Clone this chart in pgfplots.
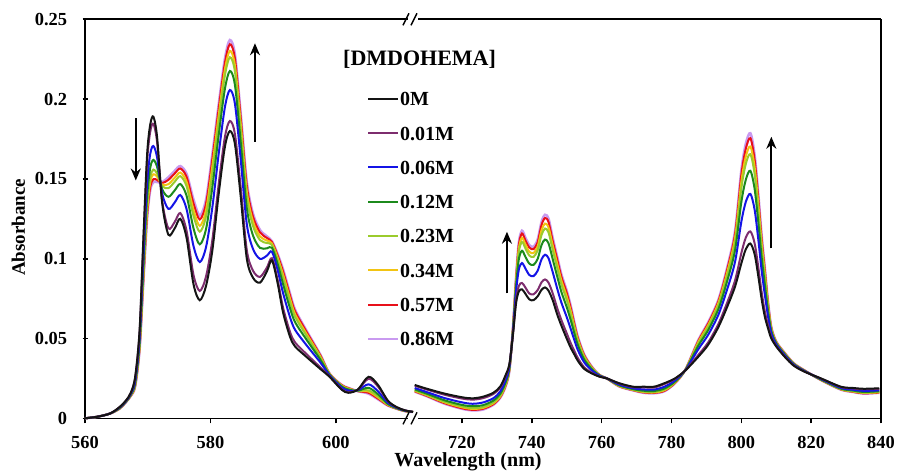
\documentclass[border=0pt]{standalone}
\usepackage{fontspec}
\setmainfont{Liberation Serif}
\usepackage{pgfplots}
\usepackage{pgfplotstable}
\pgfplotsset{compat=1.18}
\usetikzlibrary{arrows.meta}

\definecolor{c0}{HTML}{141414}
\definecolor{c1}{HTML}{7D2D6E}
\definecolor{c2}{HTML}{1414E6}
\definecolor{c3}{HTML}{1C8A1C}
\definecolor{c4}{HTML}{9BCB2C}
\definecolor{c5}{HTML}{F2C413}
\definecolor{c6}{HTML}{E8101A}
\definecolor{c7}{HTML}{C99AF0}

\pgfplotstableread{
x a0 a1 a2 a3 a4 a5 a6 a7
560 0 0 0 0 0 0 0 0
562 0.001 0.001 0.001 0.001 0.001 0.001 0.001 0.001
564 0.003 0.003 0.003 0.003 0.003 0.003 0.003 0.003
565.5 0.007 0.0069 0.0066 0.0063 0.0062 0.0061 0.0060 0.006
566.5 0.011 0.0109 0.0105 0.0103 0.0102 0.0101 0.0100 0.010
567.3 0.016 0.0158 0.0151 0.0147 0.0144 0.0142 0.0141 0.014
568 0.026 0.0253 0.0233 0.0220 0.0211 0.0207 0.0203 0.020
568.7 0.055 0.0537 0.0496 0.0471 0.0453 0.0444 0.0435 0.043
569.3 0.112 0.1090 0.0999 0.0942 0.0901 0.0882 0.0862 0.085
569.9 0.165 0.1606 0.1470 0.1386 0.1326 0.1298 0.1268 0.125
570.4 0.184 0.1795 0.1656 0.1569 0.1508 0.1479 0.1448 0.143
570.9 0.189 0.1845 0.1706 0.1619 0.1558 0.1529 0.1498 0.148
571.5 0.176 0.1729 0.1634 0.1575 0.1533 0.1514 0.1493 0.148
572.3 0.135 0.1364 0.1409 0.1436 0.1455 0.1464 0.1474 0.148
573.3 0.115 0.1190 0.1312 0.1388 0.1442 0.1467 0.1494 0.151
574.3 0.119 0.1230 0.1352 0.1428 0.1482 0.1507 0.1534 0.155
575.2 0.125 0.1286 0.1399 0.1468 0.1517 0.1540 0.1565 0.158
576.2 0.113 0.1174 0.1310 0.1394 0.1454 0.1482 0.1512 0.153
577.3 0.084 0.0898 0.1079 0.1190 0.1269 0.1306 0.1346 0.137
578.3 0.074 0.0798 0.0979 0.1090 0.1169 0.1206 0.1246 0.127
579.3 0.083 0.0889 0.1073 0.1186 0.1267 0.1305 0.1346 0.137
580.3 0.105 0.1116 0.1320 0.1446 0.1536 0.1578 0.1623 0.165
581.3 0.140 0.1462 0.1652 0.1770 0.1854 0.1893 0.1935 0.196
582.3 0.170 0.1761 0.1948 0.2063 0.2146 0.2184 0.2225 0.225
583.1 0.180 0.1863 0.2057 0.2176 0.2262 0.2302 0.2344 0.237
583.9 0.172 0.1782 0.1972 0.2090 0.2174 0.2213 0.2255 0.228
584.8 0.140 0.1457 0.1634 0.1743 0.1821 0.1858 0.1897 0.192
585.8 0.100 0.1053 0.1216 0.1317 0.1389 0.1422 0.1458 0.148
586.8 0.088 0.0924 0.1060 0.1144 0.1204 0.1232 0.1262 0.128
587.9 0.085 0.0886 0.0999 0.1068 0.1117 0.1140 0.1165 0.118
589.0 0.092 0.0944 0.1019 0.1065 0.1098 0.1114 0.1130 0.114
589.8 0.099 0.1003 0.1044 0.1069 0.1087 0.1096 0.1105 0.111
590.7 0.085 0.0870 0.0931 0.0969 0.0996 0.1008 0.1022 0.103
591.6 0.066 0.0690 0.0782 0.0838 0.0879 0.0898 0.0918 0.093
592.7 0.051 0.0540 0.0632 0.0688 0.0729 0.0748 0.0768 0.078
593.5 0.045 0.0475 0.0554 0.0602 0.0636 0.0652 0.0670 0.068
595.3 0.0385 0.0403 0.0459 0.0494 0.0519 0.0530 0.0543 0.055
597.5 0.031 0.0320 0.0351 0.0369 0.0383 0.0389 0.0396 0.040
599.0 0.026 0.0262 0.0269 0.0273 0.0276 0.0278 0.0279 0.028
600.9 0.018 0.0183 0.0194 0.0200 0.0204 0.0206 0.0209 0.021
602.0 0.016 0.0163 0.0174 0.0180 0.0184 0.0186 0.0189 0.019
603.5 0.018 0.0179 0.0176 0.0173 0.0172 0.0171 0.0170 0.017
605.2 0.026 0.0248 0.0213 0.0191 0.0175 0.0168 0.0160 0.0155
606.7 0.021 0.0200 0.0170 0.0151 0.0137 0.0131 0.0124 0.012
608.3 0.011 0.0107 0.0097 0.0090 0.0086 0.0084 0.0081 0.008
609.7 0.007 0.0069 0.0066 0.0063 0.0062 0.0061 0.0060 0.006
611.0 0.005 0.0050 0.0048 0.0047 0.0046 0.0046 0.0045 0.0045
612.3 0.004 0.004 0.004 0.004 0.004 0.004 0.004 0.004
}\lefttab

\pgfplotstableread{
x a0 a1 a2 a3 a4 a5 a6 a7
706.5 0.0209 0.0204 0.0190 0.0181 0.0175 0.0172 0.0169 0.0167
710 0.0185 0.0180 0.0164 0.0154 0.0147 0.0144 0.0140 0.0138
715 0.0155 0.0148 0.0127 0.0113 0.0104 0.0100 0.0095 0.0092
720 0.0132 0.0124 0.0100 0.0084 0.0074 0.0069 0.0063 0.0060
723 0.0125 0.0117 0.0091 0.0076 0.0064 0.0059 0.0053 0.0050
726 0.0135 0.0126 0.0099 0.0082 0.0070 0.0065 0.0059 0.0055
729 0.0160 0.0152 0.0126 0.0111 0.0099 0.0094 0.0088 0.0085
731 0.0200 0.0192 0.0169 0.0154 0.0143 0.0138 0.0133 0.0130
732.5 0.0270 0.0262 0.0239 0.0224 0.0213 0.0208 0.0203 0.0200
733.6 0.0340 0.0336 0.0322 0.0314 0.0308 0.0305 0.0302 0.0300
734.6 0.0520 0.0524 0.0538 0.0546 0.0552 0.0555 0.0558 0.0560
735.5 0.0720 0.0738 0.0792 0.0826 0.0850 0.0861 0.0873 0.0880
736.3 0.0795 0.0829 0.0932 0.0996 0.1042 0.1063 0.1086 0.1100
737.2 0.0808 0.0848 0.0973 0.1050 0.1105 0.1131 0.1158 0.1175
738.2 0.0780 0.0819 0.0938 0.1011 0.1064 0.1088 0.1114 0.1130
739.3 0.0745 0.0782 0.0898 0.0969 0.1020 0.1044 0.1070 0.1085
740.5 0.0740 0.0777 0.0891 0.0961 0.1011 0.1035 0.1060 0.1075
741.7 0.0765 0.0804 0.0925 0.0999 0.1053 0.1077 0.1104 0.1120
742.8 0.0805 0.0852 0.0996 0.1086 0.1149 0.1179 0.1211 0.1230
743.8 0.0820 0.0870 0.1025 0.1120 0.1189 0.1220 0.1255 0.1275
744.8 0.0800 0.0850 0.1003 0.1097 0.1165 0.1196 0.1230 0.1250
746 0.0740 0.0783 0.0916 0.0997 0.1056 0.1083 0.1112 0.1130
747.3 0.0650 0.0690 0.0812 0.0888 0.0942 0.0967 0.0994 0.1010
748.5 0.0580 0.0615 0.0724 0.0791 0.0839 0.0862 0.0886 0.0900
750 0.0500 0.0533 0.0635 0.0698 0.0743 0.0764 0.0787 0.0800
751.2 0.0440 0.0469 0.0557 0.0612 0.0651 0.0669 0.0688 0.0700
752.2 0.0400 0.0422 0.0490 0.0532 0.0562 0.0576 0.0591 0.0600
753.2 0.0360 0.0377 0.0428 0.0459 0.0482 0.0492 0.0503 0.0510
755 0.0310 0.0320 0.0351 0.0369 0.0383 0.0389 0.0396 0.0400
757.3 0.0280 0.0284 0.0298 0.0306 0.0312 0.0315 0.0318 0.0320
759.5 0.0260 0.0261 0.0265 0.0267 0.0268 0.0269 0.0270 0.0270
761.5 0.0250 0.0250 0.0250 0.0250 0.0250 0.0250 0.0250 0.0250
765 0.0220 0.0218 0.0211 0.0207 0.0204 0.0202 0.0201 0.0200
769 0.0198 0.0195 0.0188 0.0183 0.0179 0.0178 0.0176 0.0175
772 0.0198 0.0194 0.0181 0.0173 0.0167 0.0165 0.0162 0.0160
775 0.0198 0.0193 0.0180 0.0171 0.0165 0.0162 0.0159 0.0157
778 0.0220 0.0215 0.0198 0.0187 0.0180 0.0176 0.0172 0.0170
781 0.0250 0.0247 0.0237 0.0230 0.0226 0.0224 0.0221 0.0220
784 0.0300 0.0301 0.0302 0.0303 0.0304 0.0304 0.0305 0.0305
787.7 0.0386 0.0397 0.0433 0.0455 0.0470 0.0478 0.0485 0.0490
790.5 0.0460 0.0475 0.0523 0.0552 0.0573 0.0583 0.0594 0.0600
793.4 0.0570 0.0589 0.0647 0.0682 0.0708 0.0720 0.0732 0.0740
795.8 0.0690 0.0716 0.0798 0.0848 0.0884 0.0901 0.0919 0.0930
798.2 0.0825 0.0863 0.0980 0.1053 0.1104 0.1129 0.1154 0.1170
800 0.0970 0.1034 0.1231 0.1353 0.1440 0.1480 0.1524 0.1550
801.3 0.1060 0.1133 0.1357 0.1496 0.1595 0.1641 0.1690 0.1720
802.6 0.1095 0.1171 0.1406 0.1551 0.1655 0.1703 0.1755 0.1786
803.8 0.1030 0.1098 0.1309 0.1439 0.1532 0.1576 0.1622 0.1650
804.8 0.0900 0.0957 0.1134 0.1243 0.1321 0.1358 0.1397 0.1420
805.8 0.0750 0.0794 0.0930 0.1014 0.1074 0.1102 0.1132 0.1150
806.7 0.0640 0.0674 0.0780 0.0845 0.0891 0.0913 0.0936 0.0950
807.7 0.0560 0.0578 0.0632 0.0666 0.0690 0.0701 0.0713 0.0720
808.6 0.0500 0.0508 0.0532 0.0546 0.0557 0.0562 0.0567 0.0570
810 0.0450 0.0453 0.0464 0.0470 0.0474 0.0476 0.0479 0.0480
812.4 0.0386 0.0389 0.0397 0.0402 0.0405 0.0407 0.0409 0.0410
815 0.0330 0.0332 0.0337 0.0340 0.0342 0.0343 0.0344 0.0345
818.1 0.0292 0.0293 0.0296 0.0297 0.0298 0.0299 0.0300 0.0300
822.8 0.0250 0.0249 0.0246 0.0243 0.0242 0.0241 0.0240 0.0240
828.5 0.0198 0.0196 0.0190 0.0186 0.0183 0.0182 0.0181 0.0180
832 0.0190 0.0187 0.0179 0.0174 0.0170 0.0168 0.0166 0.0165
835 0.0185 0.0182 0.0172 0.0165 0.0161 0.0159 0.0156 0.0155
839.5 0.0188 0.0185 0.0175 0.0170 0.0165 0.0163 0.0161 0.0160
}\righttab

\pgfplotsset{
  base/.style={
    scale only axis, height=199.5pt, ymin=0, ymax=0.25, clip=false,
    axis x line=box, xtick pos=bottom,
    tick align=outside, major tick length=2.5pt,
    axis line style={-, line width=0.8pt},
    every non boxed y axis/.append style={y axis line style={-}},
    every tick/.style={black, line width=0.8pt},
    /pgf/number format/assume math mode=true,
    /pgf/number format/1000 sep={},
    ticklabel style={font=\bfseries\fontsize{9.2}{10}\selectfont, inner sep=0pt},
    xticklabel style={yshift=-6.2pt},
    yticklabel style={xshift=-7.5pt},
    every axis plot/.append style={line width=1pt, smooth, no markers},
  }
}

\begin{document}
\begin{tikzpicture}
\begin{axis}[base, name=L, at={(0,0)}, anchor=south west, width=164pt,
  xmin=560, xmax=612.3, axis y line=left,
  xtick={560,580,600},
  ytick={0,0.05,0.1,0.15,0.2,0.25},
  yticklabels={0,0.05,0.1,0.15,0.2,0.25},
  reverse legend,
  legend style={draw=none, fill=none, at={(0.859,0.822)}, anchor=north west,
    font=\bfseries\fontsize{10}{12}\selectfont, row sep=9.15pt, inner sep=0pt,
    cells={anchor=west},
    nodes={inner sep=0.5pt, text height=7pt, text depth=0pt}},
  legend image code/.code={\draw[#1, line width=1pt] (0pt,0pt) -- (15pt,0pt);},
]
\addplot[c7, line width=1.3pt] table[x=x, y=a7] {\lefttab}; \addlegendentry{0.86M}
\addplot[c6] table[x=x, y=a6] {\lefttab}; \addlegendentry{0.57M}
\addplot[c5] table[x=x, y=a5] {\lefttab}; \addlegendentry{0.34M}
\addplot[c4] table[x=x, y=a4] {\lefttab}; \addlegendentry{0.23M}
\addplot[c3] table[x=x, y=a3] {\lefttab}; \addlegendentry{0.12M}
\addplot[c2] table[x=x, y=a2] {\lefttab}; \addlegendentry{0.06M}
\addplot[c1] table[x=x, y=a1] {\lefttab}; \addlegendentry{0.01M}
\addplot[c0] table[x=x, y=a0] {\lefttab}; \addlegendentry{0M}
\node[font=\bfseries\fontsize{11}{13}\selectfont] at (rel axis cs:1.020,0.9005) {[DMDOHEMA]};
\node[rotate=90, font=\bfseries\fontsize{9.5}{11}\selectfont] at (rel axis cs:-0.2034,0.479) {Absorbance};
\draw[line width=1pt, -{Stealth[length=6pt,width=5pt]}] (axis cs:568.1,0.188) -- (axis cs:568.1,0.149);
\draw[line width=1pt, -{Stealth[length=6pt,width=5pt]}] (axis cs:587.1,0.1733) -- (axis cs:587.1,0.235);
\end{axis}
\begin{axis}[base, at={(164pt,0)}, anchor=south west, width=234pt,
  xmin=706, xmax=840, axis y line=right, ytick=\empty,
  xtick={720,740,760,780,800,820,840},
]
\addplot[c7, line width=1.3pt] table[x=x, y=a7] {\righttab};
\addplot[c6] table[x=x, y=a6] {\righttab};
\addplot[c5] table[x=x, y=a5] {\righttab};
\addplot[c4] table[x=x, y=a4] {\righttab};
\addplot[c3] table[x=x, y=a3] {\righttab};
\addplot[c2] table[x=x, y=a2] {\righttab};
\addplot[c1] table[x=x, y=a1] {\righttab};
\addplot[c0] table[x=x, y=a0] {\righttab};
\node[font=\bfseries\fontsize{10}{12}\selectfont, inner sep=0pt, anchor=base] at (rel axis cs:0.1175,-0.1200) {Wavelength (nm)};
\draw[line width=1pt, -{Stealth[length=6pt,width=5pt]}] (axis cs:732.9,0.0783) -- (axis cs:732.9,0.1169);
\draw[line width=1pt, -{Stealth[length=6pt,width=5pt]}] (axis cs:808.6,0.1065) -- (axis cs:808.6,0.1764);
\fill[white] (rel axis cs:0,0) ++(-2.5pt,-1.5pt) rectangle ++(5pt,3pt);
\draw[line width=0.7pt] (rel axis cs:0,0) ++(-5pt,-3pt) -- ++(3pt,6pt);
\draw[line width=0.7pt] (rel axis cs:0,0) ++(-1pt,-3pt) -- ++(3pt,6pt);
\fill[white] (rel axis cs:0,1) ++(-2.5pt,-1.5pt) rectangle ++(5pt,3pt);
\draw[line width=0.7pt] (rel axis cs:0,1) ++(-5pt,-3pt) -- ++(3pt,6pt);
\draw[line width=0.7pt] (rel axis cs:0,1) ++(-1pt,-3pt) -- ++(3pt,6pt);
\end{axis}
\path (-42.5pt,-26.2pt) rectangle (406pt,209.15pt);
\end{tikzpicture}
\end{document}
